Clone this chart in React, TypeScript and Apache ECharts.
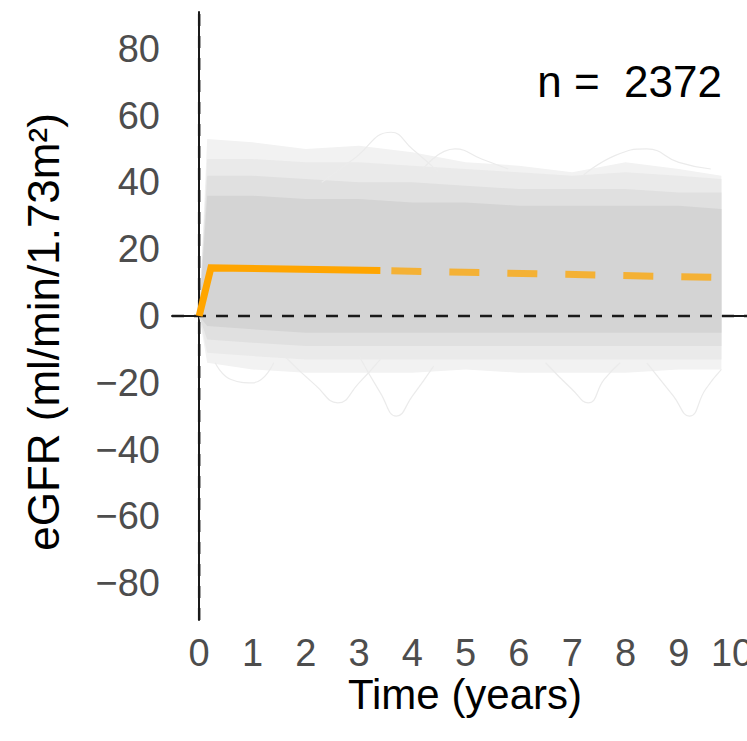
import React, { useEffect, useRef } from "react";
import * as echarts from "echarts";

// ---- Data ----
const xTicks = [0, 1, 2, 3, 4, 5, 6, 7, 8, 9, 10];
const yTicks = [-80, -60, -40, -20, 0, 20, 40, 60, 80];

// Individual trajectories summarised as density bands (years, eGFR change)
const bandT = [0, 0.15, 1, 2, 3, 4, 5, 6, 7, 8, 9, 9.8];
const band1Upper = [0, 53, 52, 50, 51, 49, 46, 45, 43, 46, 44, 42];
const band1Lower = [0, -14, -16, -17, -17, -17, -16, -17, -17, -17, -16, -16];
const band2Upper = [0, 47, 47, 46, 46, 45, 44, 43, 42, 43, 42, 41];
const band2Lower = [0, -11, -12, -13, -13, -13, -13, -13, -13, -13, -13, -13];
const band3Upper = [0, 42, 42, 41, 40, 40, 39, 38, 38, 38, 37, 37];
const band3Lower = [0, -7, -8, -9, -9, -9, -9, -9, -9, -9, -9, -9];
const band4Upper = [0, 36, 36, 35, 35, 34, 34, 33, 33, 33, 33, 32];
const band4Lower = [0, -3, -4, -5, -5, -5, -5, -5, -5, -5, -5, -5];

// A few visible outlying trajectories
const outlier1 = [[2.3, 40], [2.9, 47], [3.6, 55], [4.0, 50], [4.5, 43]];
const outlier2 = [[1.6, -12], [2.2, -21], [2.6, -26], [3.0, -20], [3.4, -13]];
const outlier3 = [[3.0, -12], [3.4, -23], [3.7, -30], [4.0, -24], [4.4, -15]];
const outlier4 = [[6.5, -14], [7.0, -22], [7.3, -26], [7.6, -19], [7.9, -14]];
const outlier5 = [[8.4, -14], [8.9, -24], [9.2, -30], [9.5, -22], [9.8, -16]];
const outlier6 = [[0.3, -14], [0.6, -19], [1.0, -20], [1.4, -14]];
const outlier7 = [[4.2, 44], [4.8, 50], [5.3, 47], [5.8, 44]];
const outlier8 = [[7.2, 42], [7.8, 48], [8.4, 50], [9.0, 46], [9.6, 44]];
const outliers = [outlier1, outlier2, outlier3, outlier4, outlier5, outlier6, outlier7, outlier8];

// Mean trajectory: observed (solid) and extrapolated (dashed)
const meanSolid = [[0, 0], [0.22, 14.4], [3.4, 13.6]];
const meanDashed = [[3.4, 13.6], [9.8, 11.5]];

const nLabel = "n =  2372";
const xTitle = "Time (years)";
const yTitle = "eGFR (ml/min/1.73m²)";

const X_MIN = -0.51;
const X_MAX = 10.28;
const Y_MIN = -91;
const Y_MAX = 91;

const FONT = "'Liberation Sans', Arial, sans-serif";

function bandSeries(upper: number[], lower: number[], color: string) {
  return {
    type: "custom",
    silent: true,
    data: [[0, 0]],
    renderItem: (params: any, api: any) => {
      const pts: number[][] = [];
      for (let i = 0; i < bandT.length; i++) pts.push(api.coord([bandT[i], upper[i]]));
      for (let i = bandT.length - 1; i >= 0; i--) pts.push(api.coord([bandT[i], lower[i]]));
      return {
        type: "polygon",
        shape: { points: pts },
        style: { fill: color },
      };
    },
  };
}

export default function App() {
  const ref = useRef<HTMLDivElement>(null);
  useEffect(() => {
    if (!ref.current) return;
    const chart = echarts.init(ref.current, undefined, { renderer: "svg" });
    const option: any = {
      animation: false,
      backgroundColor: "#ffffff",
      grid: {
        left: 172,
        top: 12,
        right: 0,
        bottom: 121,
        containLabel: false,
        outerBoundsMode: "none",
      },
      xAxis: {
        type: "value",
        min: X_MIN,
        max: X_MAX,
        axisLine: { show: true, lineStyle: { color: "#1a1a1a", width: 2 } },
        axisTick: { show: false },
        splitLine: { show: false },
        axisLabel: {
          customValues: xTicks,
          fontSize: 38,
          color: "#4d4d4d",
          fontFamily: FONT,
          margin: 14,
          showMinLabel: true,
          showMaxLabel: true,
          hideOverlap: false,
        },
      },
      yAxis: {
        type: "value",
        min: Y_MIN,
        max: Y_MAX,
        axisLine: { show: true, lineStyle: { color: "#1a1a1a", width: 2 } },
        axisTick: { show: false },
        splitLine: { show: false },
        axisLabel: {
          customValues: yTicks,
          fontSize: 38,
          color: "#4d4d4d",
          fontFamily: FONT,
          margin: 12,
          formatter: (v: number) => String(v).replace("-", "\u2212"),
        },
      },
      series: [
        bandSeries(band1Upper, band1Lower, "#f2f2f2"),
        bandSeries(band2Upper, band2Lower, "#eaeaea"),
        bandSeries(band3Upper, band3Lower, "#e0e0e0"),
        bandSeries(band4Upper, band4Lower, "#d4d4d4"),
        ...outliers.map((d) => ({
          type: "line",
          data: d,
          smooth: true,
          symbol: "none",
          silent: true,
          lineStyle: { color: "#ebebeb", width: 1.2 },
        })),
        {
          type: "line",
          data: [[0, Y_MIN], [0, Y_MAX]],
          symbol: "none",
          silent: true,
          lineStyle: { color: "#1a1a1a", width: 2.5, type: [12, 10] },
        },
        {
          type: "line",
          data: [[X_MIN, 0], [X_MAX, 0]],
          symbol: "none",
          silent: true,
          lineStyle: { color: "#1a1a1a", width: 2.5, type: [12, 10] },
        },
        {
          type: "line",
          data: meanDashed,
          symbol: "none",
          silent: true,
          lineStyle: {
            color: "rgba(255,165,0,0.75)",
            width: 7,
            type: [30, 28],
            dashOffset: 47,
            cap: "butt",
          },
        },
        {
          type: "line",
          data: meanSolid,
          symbol: "none",
          silent: true,
          lineStyle: { color: "#ffa500", width: 7, join: "miter" },
        },
      ],
      graphic: [
        {
          type: "text",
          right: 25,
          top: 59,
          style: {
            text: nLabel,
            fontSize: 44,
            fill: "#000000",
            fontFamily: FONT,
          },
        },
        {
          type: "text",
          x: 465,
          y: 694,
          style: {
            text: xTitle,
            fontSize: 42,
            fill: "#000000",
            fontFamily: FONT,
            align: "center",
            verticalAlign: "middle",
          },
        },
        {
          type: "text",
          x: 43,
          y: 332,
          rotation: Math.PI / 2,
          style: {
            text: yTitle,
            fontSize: 44,
            fill: "#000000",
            fontFamily: FONT,
            align: "center",
            verticalAlign: "middle",
          },
        },
      ],
    };
    chart.setOption(option);
    return () => chart.dispose();
  }, []);
  return (
    <div
      ref={ref}
      style={{ position: "absolute", left: 0, top: 0, width: 747, height: 741 }}
    />
  );
}
